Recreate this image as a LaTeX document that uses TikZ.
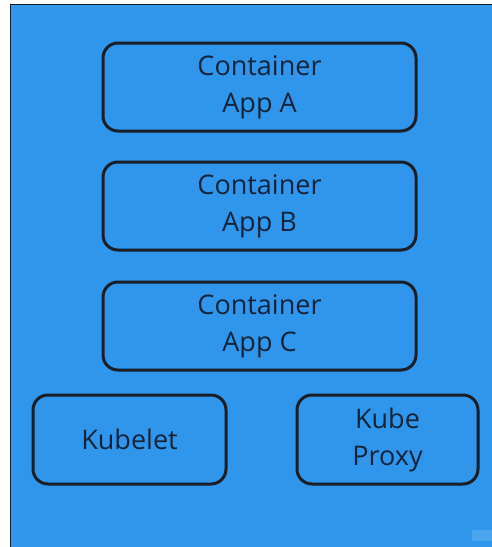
\documentclass[tikz,border=0pt]{standalone}
\usepackage{fontspec}
\setmainfont{Open Sans}
\definecolor{panelblue}{HTML}{2F96EC}
\definecolor{edgedark}{HTML}{1A1E26}
\definecolor{labeltext}{HTML}{14243A}
\definecolor{patch}{HTML}{4AA4EE}
\begin{document}
\begin{tikzpicture}[x=1pt,y=-1pt,
  unitbox/.style={draw=edgedark,line width=3pt,rounded corners=15pt,fill=panelblue,
    text=labeltext,align=center,font=\fontsize{27}{37}\selectfont,inner sep=0pt},
]
\useasboundingbox (0,0) rectangle (492,547);
% white page with the blue panel
\fill[white] (0,0) rectangle (492,547);
\fill[panelblue] (10,4) rectangle (492,547);
\draw[edgedark,line width=1.5pt] (10.5,547) -- (10.5,4.5) -- (492,4.5);
\fill[patch] (472,530) rectangle (492,541);
% containers
\node[unitbox,minimum width=313pt,minimum height=88pt] (appa) at (259.5,87) {Container\\App A};
\node[unitbox,minimum width=313pt,minimum height=88pt] (appb) at (259.5,206) {Container\\App B};
\node[unitbox,minimum width=313pt,minimum height=88pt] (appc) at (259.5,326) {Container\\App C};
% node agents
\node[unitbox,minimum width=193pt,minimum height=89pt] (kubelet) at (129.5,439.5) {Kubelet};
\node[unitbox,minimum width=181pt,minimum height=89pt] (proxy) at (387.5,439.5) {Kube\\Proxy};
\end{tikzpicture}
\end{document}
